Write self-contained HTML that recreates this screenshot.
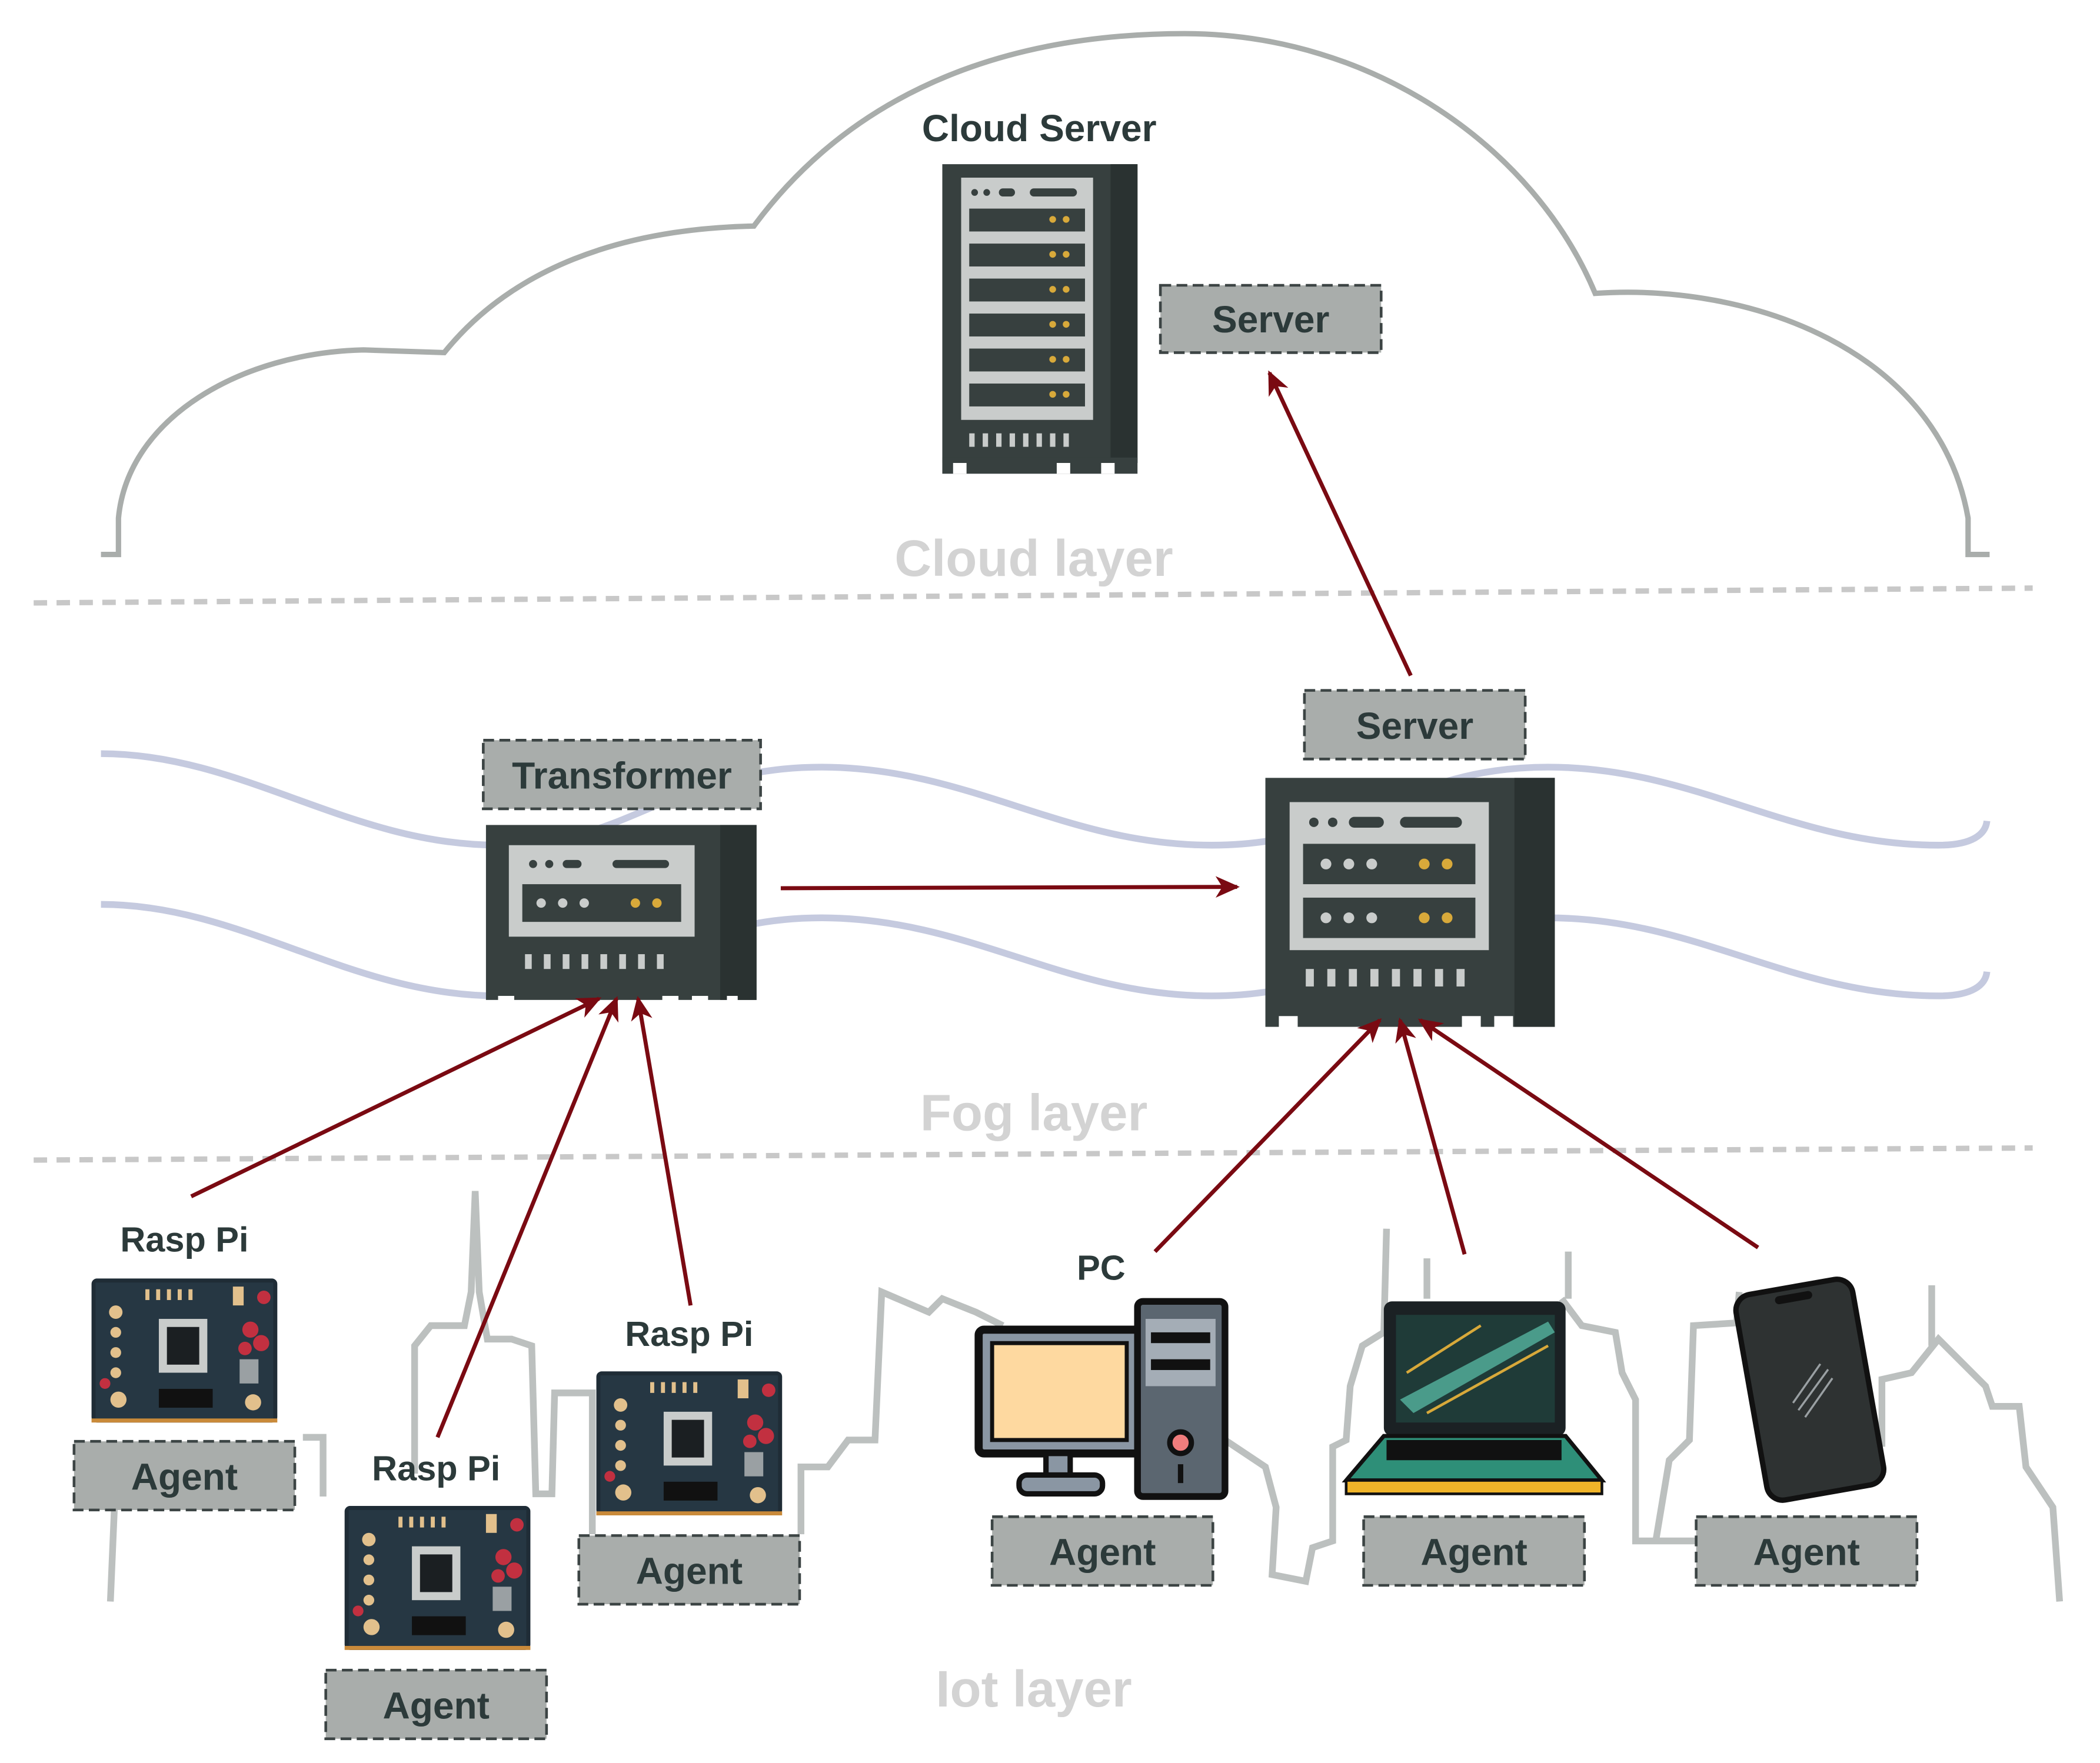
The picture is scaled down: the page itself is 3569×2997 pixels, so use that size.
<!DOCTYPE html>
<html><head><meta charset="utf-8"><style>
html,body{margin:0;padding:0;background:#fff;}
svg{display:block;}
text{font-family:"Liberation Sans",sans-serif;font-weight:bold;}
</style></head><body>
<svg width="3569" height="2997" viewBox="0 0 1560 1310" preserveAspectRatio="none" xmlns="http://www.w3.org/2000/svg">
<defs>
<marker id="ah" markerWidth="18" markerHeight="16" refX="16" refY="8" orient="auto" markerUnits="userSpaceOnUse" viewBox="0 0 18 16">
<path d="M0,0 L18,8 L0,16 L5,8 z" fill="#7a0a12"/></marker>
<g id="pi">
<rect x="0" y="0" width="138" height="107" rx="4" fill="#1f2c36"/>
<rect x="3" y="3" width="132" height="101" fill="#263743"/>
<rect x="50" y="30" width="36" height="40" fill="#c9cccb"/><rect x="56" y="36" width="24" height="28" fill="#1b1f22"/>
<g fill="#e2c08c"><circle cx="18" cy="25" r="5"/><circle cx="18" cy="40" r="4"/><circle cx="18" cy="55" r="4"/><circle cx="18" cy="70" r="4"/><circle cx="20" cy="90" r="6"/><circle cx="120" cy="92" r="6"/><rect x="105" y="6" width="8" height="14"/></g>
<g fill="#e2c08c"><rect x="40" y="8" width="3" height="8"/><rect x="48" y="8" width="3" height="8"/><rect x="56" y="8" width="3" height="8"/><rect x="64" y="8" width="3" height="8"/><rect x="72" y="8" width="3" height="8"/></g>
<g fill="#c23040"><circle cx="118" cy="38" r="6"/><circle cx="126" cy="48" r="6"/><circle cx="114" cy="52" r="5"/><circle cx="128" cy="14" r="5"/><circle cx="10" cy="78" r="4"/></g>
<rect x="110" y="60" width="14" height="18" fill="#9aa0a3"/>
<rect x="50" y="82" width="40" height="14" fill="#111"/>
<rect x="0" y="104" width="138" height="3" fill="#c98a3a"/>
</g>
<g id="agent">
<rect x="0" y="0" width="164" height="51" fill="#a9adab" stroke="#3c4444" stroke-width="2" stroke-dasharray="8,4"/>
<text x="82" y="36" text-anchor="middle" font-size="28" fill="#2c3a3a">Agent</text>
</g>
</defs>

<g fill="none" stroke="#bcc0bf" stroke-width="5" stroke-linejoin="miter">
<path d="M82,1190 L85,1120 M308,1095 L308,1000 L320,985 L345,985 L350,960 L353,885 L356,960 L362,995 L380,995 L395,1000 L398,1110 L410,1110 L412,1035 L440,1035 L440,1140"/>
<path d="M595,1140 L595,1090 L615,1090 L630,1070 L650,1070 L655,960 L690,975 L700,965 L725,975 L745,985"/>
<path d="M910,1070 L940,1090 L948,1120 L945,1170 L970,1175 L975,1150 L990,1145 L990,1075 L1000,1070 L1003,1030 L1012,1000 L1028,990 L1030,913"/>
<path d="M1060,965 L1060,935 M1165,965 L1165,930 M1160,965 L1175,985 L1200,990 L1205,1020 L1215,1040 L1215,1145 L1260,1145 M1230,1145 L1240,1085 L1255,1070 L1258,985 L1290,983 L1292,960"/>
<path d="M1398,1075 L1398,1025 L1420,1020 L1440,995 L1455,1010 L1475,1030 L1480,1045 L1500,1045 L1505,1090 L1525,1120 L1530,1190"/>
<path d="M240,1112 L240,1068 L225,1068 M258,1135 L275,1125 L275,1120"/>
<path d="M1435,1000 L1435,955"/>
</g>

<path d="M75,412 L88,412 L88,385 C95,310 180,262 270,260 L330,262 C380,200 460,170 560,168 C640,60 760,25 880,25 C1020,25 1140,110 1185,218 C1300,210 1440,260 1462,385 L1462,412 L1478,412" fill="none" stroke="#a9adab" stroke-width="4"/>

<line x1="25" y1="448" x2="1510" y2="437" stroke="#c8c8c8" stroke-width="4" stroke-dasharray="10,7"/>
<line x1="25" y1="862" x2="1510" y2="853" stroke="#c8c8c8" stroke-width="4" stroke-dasharray="10,7"/>

<text x="768" y="428" text-anchor="middle" font-size="38" fill="#d3d3d3">Cloud layer</text>
<text x="768" y="840" text-anchor="middle" font-size="38" fill="#d3d3d3">Fog layer</text>
<text x="768" y="1268" text-anchor="middle" font-size="38" fill="#d3d3d3">Iot layer</text>

<g fill="none" stroke="#c5cadf" stroke-width="5">
<path d="M75,560 C180,560 260,628 370,628 C470,628 500,570 610,570 C720,570 790,628 900,628 C1010,628 1040,570 1150,570 C1260,570 1330,628 1440,628 C1465,628 1475,620 1476,610"/>
<path d="M75,672 C180,672 260,740 370,740 C470,740 500,682 610,682 C720,682 790,740 900,740 C1010,740 1040,682 1150,682 C1260,682 1330,740 1440,740 C1465,740 1475,732 1476,722"/>
</g>

<text x="772" y="105" text-anchor="middle" font-size="28" fill="#2c3a3a">Cloud Server</text>
<rect x="700" y="122" width="145" height="222" fill="#37403f"/>
<rect x="825" y="122" width="20" height="222" fill="#2a3231"/>
<rect x="714" y="132" width="98" height="180" fill="#c9cccb"/>
<g fill="#37403f">
<rect x="720" y="155" width="86" height="17"/><rect x="720" y="181" width="86" height="17"/><rect x="720" y="207" width="86" height="17"/><rect x="720" y="233" width="86" height="17"/><rect x="720" y="259" width="86" height="17"/><rect x="720" y="285" width="86" height="17"/>
<rect x="700" y="340" width="145" height="12"/>
<circle cx="724" cy="143" r="2.5"/><circle cx="733" cy="143" r="2.5"/><rect x="742" y="140" width="12" height="6" rx="3"/><rect x="765" y="140" width="35" height="6" rx="3"/>
</g>
<g fill="#fff"><rect x="708" y="344" width="10" height="8"/><rect x="785" y="344" width="10" height="8"/><rect x="818" y="344" width="10" height="8"/></g>
<g fill="#d8a93a"><circle cx="782" cy="163" r="2.5"/><circle cx="792" cy="163" r="2.5"/><circle cx="782" cy="189" r="2.5"/><circle cx="792" cy="189" r="2.5"/><circle cx="782" cy="215" r="2.5"/><circle cx="792" cy="215" r="2.5"/><circle cx="782" cy="241" r="2.5"/><circle cx="792" cy="241" r="2.5"/><circle cx="782" cy="267" r="2.5"/><circle cx="792" cy="267" r="2.5"/><circle cx="782" cy="293" r="2.5"/><circle cx="792" cy="293" r="2.5"/></g>
<g fill="#c9cccb"><rect x="720" y="322" width="4" height="10"/><rect x="730" y="322" width="4" height="10"/><rect x="740" y="322" width="4" height="10"/><rect x="750" y="322" width="4" height="10"/><rect x="760" y="322" width="4" height="10"/><rect x="770" y="322" width="4" height="10"/><rect x="780" y="322" width="4" height="10"/><rect x="790" y="322" width="4" height="10"/></g>

<rect x="862" y="212" width="164" height="50" fill="#a9adab" stroke="#3c4444" stroke-width="2" stroke-dasharray="8,4"/>
<text x="944" y="247" text-anchor="middle" font-size="28" fill="#2c3a3a">Server</text>

<rect x="359" y="550" width="206" height="51" fill="#a9adab" stroke="#3c4444" stroke-width="2" stroke-dasharray="8,4"/>
<text x="462" y="586" text-anchor="middle" font-size="28" fill="#2c3a3a">Transformer</text>
<rect x="361" y="613" width="201" height="130" fill="#37403f"/>
<rect x="535" y="613" width="27" height="130" fill="#2a3231"/>
<rect x="378" y="628" width="138" height="68" fill="#c9cccb"/>
<rect x="388" y="657" width="118" height="28" fill="#37403f"/>
<g fill="#37403f"><circle cx="396" cy="642" r="3"/><circle cx="408" cy="642" r="3"/><rect x="418" y="639" width="14" height="6" rx="3"/><rect x="455" y="639" width="42" height="6" rx="3"/></g>
<g fill="#c9cccb"><circle cx="402" cy="671" r="3.5"/><circle cx="418" cy="671" r="3.5"/><circle cx="434" cy="671" r="3.5"/></g>
<g fill="#d8a93a"><circle cx="472" cy="671" r="3.5"/><circle cx="488" cy="671" r="3.5"/></g>
<g fill="#c9cccb"><rect x="390" y="709" width="5" height="11"/><rect x="404" y="709" width="5" height="11"/><rect x="418" y="709" width="5" height="11"/><rect x="432" y="709" width="5" height="11"/><rect x="446" y="709" width="5" height="11"/><rect x="460" y="709" width="5" height="11"/><rect x="474" y="709" width="5" height="11"/><rect x="488" y="709" width="5" height="11"/></g>
<g fill="#fff"><rect x="370" y="740" width="12" height="9"/><rect x="492" y="740" width="12" height="9"/><rect x="514" y="740" width="12" height="9"/><rect x="540" y="740" width="8" height="9"/></g>

<rect x="969" y="513" width="164" height="51" fill="#a9adab" stroke="#3c4444" stroke-width="2" stroke-dasharray="8,4"/>
<text x="1051" y="549" text-anchor="middle" font-size="28" fill="#2c3a3a">Server</text>
<rect x="940" y="578" width="215" height="185" fill="#37403f"/>
<rect x="1125" y="578" width="30" height="185" fill="#2a3231"/>
<rect x="958" y="596" width="148" height="110" fill="#c9cccb"/>
<rect x="968" y="627" width="128" height="30" fill="#37403f"/>
<rect x="968" y="667" width="128" height="30" fill="#37403f"/>
<g fill="#37403f"><circle cx="976" cy="611" r="3.5"/><circle cx="990" cy="611" r="3.5"/><rect x="1002" y="607" width="26" height="8" rx="4"/><rect x="1040" y="607" width="46" height="8" rx="4"/></g>
<g fill="#c9cccb"><circle cx="985" cy="642" r="4"/><circle cx="1002" cy="642" r="4"/><circle cx="1019" cy="642" r="4"/><circle cx="985" cy="682" r="4"/><circle cx="1002" cy="682" r="4"/><circle cx="1019" cy="682" r="4"/></g>
<g fill="#d8a93a"><circle cx="1058" cy="642" r="4"/><circle cx="1075" cy="642" r="4"/><circle cx="1058" cy="682" r="4"/><circle cx="1075" cy="682" r="4"/></g>
<g fill="#c9cccb"><rect x="970" y="720" width="6" height="13"/><rect x="986" y="720" width="6" height="13"/><rect x="1002" y="720" width="6" height="13"/><rect x="1018" y="720" width="6" height="13"/><rect x="1034" y="720" width="6" height="13"/><rect x="1050" y="720" width="6" height="13"/><rect x="1066" y="720" width="6" height="13"/><rect x="1082" y="720" width="6" height="13"/></g>
<g fill="#fff"><rect x="950" y="755" width="14" height="9"/><rect x="1086" y="755" width="14" height="9"/><rect x="1110" y="755" width="14" height="9"/></g>

<g stroke="#7a0a12" stroke-width="3" fill="none" marker-end="url(#ah)">
<line x1="1048" y1="502" x2="943" y2="277"/>
<line x1="580" y1="660" x2="919" y2="659"/>
<line x1="142" y1="889" x2="445" y2="742"/>
<line x1="325" y1="1068" x2="458" y2="742"/>
<line x1="513" y1="970" x2="474" y2="742"/>
<line x1="858" y1="930" x2="1025" y2="758"/>
<line x1="1088" y1="932" x2="1040" y2="758"/>
<line x1="1306" y1="927" x2="1055" y2="758"/>
</g>

<text x="137" y="930" text-anchor="middle" font-size="26" fill="#2c3a3a">Rasp Pi</text>
<use href="#pi" x="68" y="950"/>
<use href="#agent" x="55" y="1071"/>

<text x="324" y="1100" text-anchor="middle" font-size="26" fill="#2c3a3a">Rasp Pi</text>
<use href="#pi" x="256" y="1119"/>
<use href="#agent" x="242" y="1241"/>

<text x="512" y="1000" text-anchor="middle" font-size="26" fill="#2c3a3a">Rasp Pi</text>
<use href="#pi" x="443" y="1019"/>
<use href="#agent" x="430" y="1141"/>

<text x="818" y="951" text-anchor="middle" font-size="26" fill="#2c3a3a">PC</text>
<rect x="727" y="988" width="120" height="92" rx="4" fill="#8a96a3" stroke="#111" stroke-width="6"/>
<rect x="737" y="998" width="100" height="72" fill="#fed9a0" stroke="#111" stroke-width="3"/>
<rect x="777" y="1080" width="18" height="18" fill="#8a96a3" stroke="#111" stroke-width="4"/>
<rect x="757" y="1096" width="62" height="14" rx="6" fill="#8a96a3" stroke="#111" stroke-width="4"/>
<rect x="845" y="967" width="65" height="145" rx="4" fill="#5b6670" stroke="#111" stroke-width="5"/>
<rect x="851" y="980" width="52" height="50" fill="#a4adb6"/>
<rect x="855" y="990" width="44" height="8" fill="#111"/><rect x="855" y="1010" width="44" height="8" fill="#111"/>
<circle cx="877" cy="1072" r="8" fill="#f07c7c" stroke="#111" stroke-width="4"/>
<rect x="875" y="1088" width="4" height="14" fill="#111"/>
<use href="#agent" x="737" y="1127"/>

<rect x="1028" y="967" width="135" height="100" rx="6" fill="#1b2124"/>
<rect x="1037" y="977" width="118" height="80" fill="#1f3b38"/>
<path d="M1040,1040 L1150,982 L1155,990 L1050,1050 z" fill="#4a9b8a"/>
<path d="M1060,1050 L1150,1000" stroke="#d8a93a" stroke-width="2"/>
<path d="M1045,1020 L1100,985" stroke="#d8a93a" stroke-width="2"/>
<path d="M1028,1067 L1163,1067 L1190,1100 L1000,1100 z" fill="#2e8f78" stroke="#111" stroke-width="3"/>
<rect x="1030" y="1070" width="130" height="15" fill="#111"/>
<rect x="1000" y="1100" width="190" height="10" fill="#f0b429" stroke="#111" stroke-width="2"/>
<use href="#agent" x="1013" y="1127"/>

<g transform="rotate(-10 1345 1030)">
<rect x="1300" y="955" width="88" height="155" rx="12" fill="#2e3232" stroke="#111" stroke-width="4"/>
<rect x="1330" y="960" width="28" height="6" rx="3" fill="#111"/>
<g stroke="#9aa0a3" stroke-width="1.5"><line x1="1330" y1="1040" x2="1355" y2="1015"/><line x1="1333" y1="1046" x2="1360" y2="1020"/><line x1="1337" y1="1052" x2="1362" y2="1027"/></g>
</g>
<use href="#agent" x="1260" y="1127"/>
</svg>
</body></html>
